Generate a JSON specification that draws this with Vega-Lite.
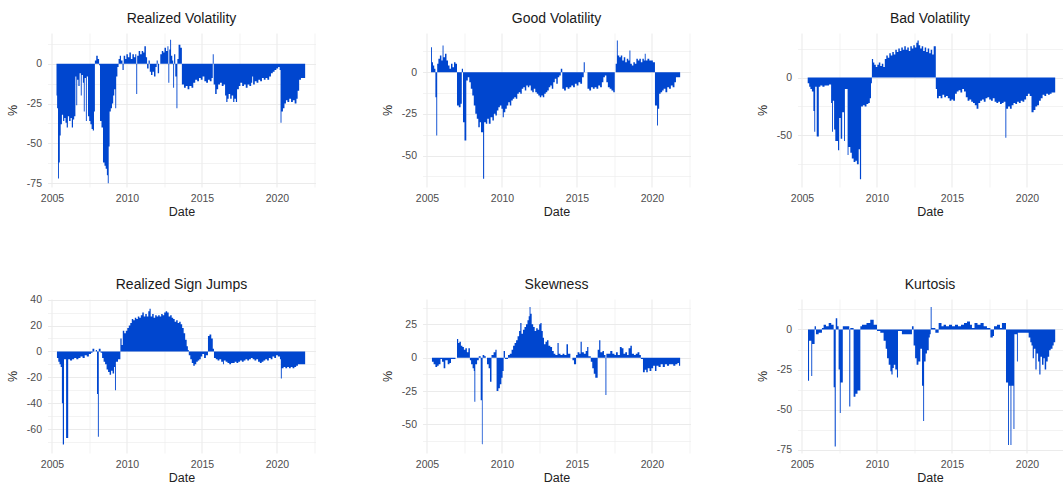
{
  "$schema": "https://vega.github.io/schema/vega-lite/v6.json",
  "background": "white",
  "padding": {"left": 6.5, "top": 11, "right": 0, "bottom": 0},
  "config": {
    "font": "Liberation Sans",
    "view": {"stroke": null},
    "title": {"fontSize": 14, "fontWeight": "normal", "color": "#1a1a1a", "anchor": "middle", "offset": 7.5, "font": "Liberation Sans"},
    "axis": {"domain": false, "ticks": false, "gridColor": "#ebebeb", "labelColor": "#4d4d4d", "labelFontSize": 10.5, "titleFontSize": 12.5, "titleFontWeight": "normal", "titleColor": "#222222", "labelFont": "Liberation Sans", "titleFont": "Liberation Sans"},
    "axisX": {"labelPadding": 6, "minExtent": 17, "maxExtent": 17, "titlePadding": 1, "labelFlush": false},
    "axisY": {"labelPadding": 6, "minExtent": 24, "maxExtent": 24, "titlePadding": 4},
    "area": {"color": "#0046cf", "interpolate": "step-after"}
  },
  "columns": 3,
  "align": "each",
  "spacing": {"row": 59, "column": 66},
  "datasets": {
    "rv": [{"t":2005.30,"v":-20},{"t":2005.34,"v":-28},{"t":2005.40,"v":-72},{"t":2005.46,"v":-62},{"t":2005.52,"v":-45},{"t":2005.58,"v":-38},{"t":2005.66,"v":-32},{"t":2005.74,"v":-36},{"t":2005.82,"v":-34},{"t":2005.90,"v":-37},{"t":2005.98,"v":-40},{"t":2006.06,"v":-33},{"t":2006.14,"v":-36},{"t":2006.24,"v":-34},{"t":2006.32,"v":-40},{"t":2006.40,"v":-35},{"t":2006.48,"v":-33},{"t":2006.56,"v":-8},{"t":2006.62,"v":-26},{"t":2006.68,"v":-10},{"t":2006.76,"v":-14},{"t":2006.84,"v":-6},{"t":2006.92,"v":-20},{"t":2006.98,"v":-7},{"t":2007.06,"v":-12},{"t":2007.12,"v":-30},{"t":2007.18,"v":-9},{"t":2007.26,"v":-36},{"t":2007.32,"v":-8},{"t":2007.40,"v":-33},{"t":2007.48,"v":-36},{"t":2007.56,"v":-38},{"t":2007.64,"v":-41},{"t":2007.72,"v":-42},{"t":2007.80,"v":-30},{"t":2007.86,"v":2},{"t":2007.95,"v":5},{"t":2008.05,"v":3},{"t":2008.14,"v":-1},{"t":2008.20,"v":-36},{"t":2008.30,"v":-40},{"t":2008.40,"v":-62},{"t":2008.50,"v":-64},{"t":2008.58,"v":-66},{"t":2008.66,"v":-70},{"t":2008.72,"v":-75},{"t":2008.78,"v":-52},{"t":2008.84,"v":-30},{"t":2008.92,"v":-28},{"t":2009.00,"v":-25},{"t":2009.08,"v":-20},{"t":2009.15,"v":-16},{"t":2009.22,"v":-28},{"t":2009.28,"v":-8},{"t":2009.36,"v":-2},{"t":2009.44,"v":3},{"t":2009.52,"v":5},{"t":2009.60,"v":2},{"t":2009.70,"v":-4},{"t":2009.78,"v":5},{"t":2009.88,"v":3},{"t":2009.96,"v":6},{"t":2010.06,"v":4},{"t":2010.16,"v":7},{"t":2010.26,"v":3},{"t":2010.36,"v":6},{"t":2010.46,"v":4},{"t":2010.55,"v":6},{"t":2010.62,"v":-19},{"t":2010.68,"v":5},{"t":2010.78,"v":8},{"t":2010.88,"v":6},{"t":2010.98,"v":8},{"t":2011.08,"v":7},{"t":2011.16,"v":11},{"t":2011.26,"v":4},{"t":2011.34,"v":-3},{"t":2011.44,"v":2},{"t":2011.52,"v":-5},{"t":2011.60,"v":-7},{"t":2011.70,"v":-5},{"t":2011.80,"v":-8},{"t":2011.90,"v":-2},{"t":2011.98,"v":2},{"t":2012.05,"v":-6},{"t":2012.14,"v":0},{"t":2012.22,"v":6},{"t":2012.32,"v":8},{"t":2012.42,"v":7},{"t":2012.50,"v":10},{"t":2012.60,"v":8},{"t":2012.70,"v":11},{"t":2012.76,"v":-12},{"t":2012.82,"v":9},{"t":2012.88,"v":15},{"t":2012.94,"v":5},{"t":2013.02,"v":2},{"t":2013.08,"v":-15},{"t":2013.14,"v":6},{"t":2013.22,"v":-8},{"t":2013.30,"v":-28},{"t":2013.36,"v":3},{"t":2013.44,"v":12},{"t":2013.56,"v":10},{"t":2013.66,"v":-13},{"t":2013.80,"v":-15},{"t":2013.92,"v":-14},{"t":2014.04,"v":-16},{"t":2014.16,"v":-14},{"t":2014.30,"v":-15},{"t":2014.42,"v":-12},{"t":2014.55,"v":-10},{"t":2014.68,"v":-11},{"t":2014.80,"v":-9},{"t":2014.92,"v":-10},{"t":2015.04,"v":-8},{"t":2015.16,"v":-11},{"t":2015.28,"v":-12},{"t":2015.40,"v":-10},{"t":2015.52,"v":-11},{"t":2015.64,"v":-9},{"t":2015.72,"v":6},{"t":2015.78,"v":-13},{"t":2015.88,"v":-19},{"t":2015.98,"v":-16},{"t":2016.08,"v":-13},{"t":2016.20,"v":-12},{"t":2016.32,"v":-14},{"t":2016.44,"v":-13},{"t":2016.54,"v":-20},{"t":2016.62,"v":-24},{"t":2016.70,"v":-22},{"t":2016.78,"v":-19},{"t":2016.88,"v":-22},{"t":2016.98,"v":-20},{"t":2017.08,"v":-24},{"t":2017.16,"v":-22},{"t":2017.26,"v":-24},{"t":2017.34,"v":-16},{"t":2017.46,"v":-14},{"t":2017.56,"v":-12},{"t":2017.68,"v":-14},{"t":2017.80,"v":-13},{"t":2017.92,"v":-15},{"t":2018.04,"v":-13},{"t":2018.16,"v":-14},{"t":2018.28,"v":-12},{"t":2018.35,"v":-8},{"t":2018.41,"v":-13},{"t":2018.52,"v":-11},{"t":2018.64,"v":-12},{"t":2018.76,"v":-10},{"t":2018.88,"v":-11},{"t":2019.00,"v":-9},{"t":2019.12,"v":-10},{"t":2019.24,"v":-9},{"t":2019.36,"v":-10},{"t":2019.48,"v":-8},{"t":2019.60,"v":-6},{"t":2019.72,"v":-5},{"t":2019.84,"v":-4},{"t":2019.96,"v":-3},{"t":2020.08,"v":-2},{"t":2020.18,"v":-4},{"t":2020.24,"v":-37},{"t":2020.30,"v":-30},{"t":2020.40,"v":-28},{"t":2020.50,"v":-25},{"t":2020.60,"v":-23},{"t":2020.70,"v":-24},{"t":2020.82,"v":-22},{"t":2020.94,"v":-24},{"t":2021.06,"v":-23},{"t":2021.18,"v":-25},{"t":2021.30,"v":-22},{"t":2021.38,"v":-17},{"t":2021.48,"v":-10},{"t":2021.60,"v":-9},{"t":2021.88,"v":-9}],
    "gv": [{"t":2005.27,"v":15},{"t":2005.33,"v":6},{"t":2005.40,"v":4},{"t":2005.48,"v":2},{"t":2005.56,"v":-15},{"t":2005.62,"v":-38},{"t":2005.68,"v":5},{"t":2005.76,"v":8},{"t":2005.86,"v":10},{"t":2005.96,"v":7},{"t":2006.04,"v":16},{"t":2006.10,"v":9},{"t":2006.20,"v":11},{"t":2006.30,"v":7},{"t":2006.40,"v":4},{"t":2006.50,"v":2},{"t":2006.60,"v":5},{"t":2006.70,"v":3},{"t":2006.80,"v":6},{"t":2006.90,"v":5},{"t":2007.00,"v":-20},{"t":2007.12,"v":-21},{"t":2007.24,"v":-19},{"t":2007.32,"v":2},{"t":2007.40,"v":-30},{"t":2007.50,"v":-41},{"t":2007.62,"v":-5},{"t":2007.72,"v":-3},{"t":2007.82,"v":-6},{"t":2007.92,"v":-10},{"t":2008.02,"v":-14},{"t":2008.12,"v":-20},{"t":2008.22,"v":-25},{"t":2008.32,"v":-28},{"t":2008.42,"v":-33},{"t":2008.52,"v":-30},{"t":2008.60,"v":-36},{"t":2008.74,"v":-64},{"t":2008.81,"v":-30},{"t":2008.92,"v":-31},{"t":2009.02,"v":-28},{"t":2009.12,"v":-31},{"t":2009.24,"v":-27},{"t":2009.36,"v":-29},{"t":2009.46,"v":-25},{"t":2009.56,"v":-26},{"t":2009.66,"v":-23},{"t":2009.76,"v":-21},{"t":2009.86,"v":-20},{"t":2009.96,"v":-22},{"t":2010.05,"v":-27},{"t":2010.12,"v":-24},{"t":2010.22,"v":-22},{"t":2010.32,"v":-20},{"t":2010.42,"v":-18},{"t":2010.52,"v":-20},{"t":2010.62,"v":-17},{"t":2010.72,"v":-16},{"t":2010.82,"v":-15},{"t":2010.92,"v":-16},{"t":2011.02,"v":-13},{"t":2011.12,"v":-12},{"t":2011.22,"v":-13},{"t":2011.32,"v":-10},{"t":2011.42,"v":-9},{"t":2011.52,"v":-11},{"t":2011.62,"v":-8},{"t":2011.72,"v":-9},{"t":2011.82,"v":-8},{"t":2011.92,"v":-11},{"t":2012.02,"v":-12},{"t":2012.12,"v":-10},{"t":2012.22,"v":-12},{"t":2012.32,"v":-13},{"t":2012.42,"v":-14},{"t":2012.52,"v":-15},{"t":2012.62,"v":-14},{"t":2012.72,"v":-15},{"t":2012.82,"v":-13},{"t":2012.92,"v":-12},{"t":2013.02,"v":-11},{"t":2013.12,"v":-9},{"t":2013.22,"v":-8},{"t":2013.32,"v":-10},{"t":2013.42,"v":-6},{"t":2013.52,"v":-4},{"t":2013.62,"v":-7},{"t":2013.72,"v":-3},{"t":2013.82,"v":-2},{"t":2013.92,"v":2},{"t":2014.02,"v":-10},{"t":2014.14,"v":-11},{"t":2014.26,"v":-9},{"t":2014.38,"v":-10},{"t":2014.50,"v":-9},{"t":2014.62,"v":-8},{"t":2014.74,"v":-9},{"t":2014.86,"v":-7},{"t":2014.98,"v":-8},{"t":2015.10,"v":-6},{"t":2015.22,"v":-7},{"t":2015.34,"v":-3},{"t":2015.45,"v":6},{"t":2015.52,"v":0},{"t":2015.70,"v":-10},{"t":2015.82,"v":-11},{"t":2015.94,"v":-9},{"t":2016.06,"v":-10},{"t":2016.18,"v":-9},{"t":2016.30,"v":-10},{"t":2016.42,"v":-8},{"t":2016.54,"v":-9},{"t":2016.66,"v":-6},{"t":2016.76,"v":-3},{"t":2016.86,"v":-2},{"t":2016.96,"v":-6},{"t":2017.06,"v":-9},{"t":2017.18,"v":-10},{"t":2017.30,"v":-11},{"t":2017.42,"v":-12},{"t":2017.52,"v":0},{"t":2017.58,"v":5},{"t":2017.66,"v":19},{"t":2017.72,"v":10},{"t":2017.82,"v":9},{"t":2017.92,"v":10},{"t":2018.02,"v":7},{"t":2018.12,"v":9},{"t":2018.22,"v":6},{"t":2018.32,"v":8},{"t":2018.42,"v":7},{"t":2018.50,"v":13},{"t":2018.56,"v":5},{"t":2018.66,"v":4},{"t":2018.76,"v":6},{"t":2018.86,"v":5},{"t":2018.96,"v":8},{"t":2019.06,"v":7},{"t":2019.16,"v":8},{"t":2019.26,"v":6},{"t":2019.36,"v":8},{"t":2019.46,"v":7},{"t":2019.52,"v":11},{"t":2019.58,"v":7},{"t":2019.70,"v":8},{"t":2019.82,"v":7},{"t":2019.94,"v":7},{"t":2020.06,"v":6},{"t":2020.20,"v":-20},{"t":2020.34,"v":-32},{"t":2020.40,"v":-22},{"t":2020.48,"v":-13},{"t":2020.58,"v":-12},{"t":2020.68,"v":-11},{"t":2020.78,"v":-10},{"t":2020.90,"v":-12},{"t":2021.02,"v":-9},{"t":2021.14,"v":-10},{"t":2021.26,"v":-8},{"t":2021.38,"v":-9},{"t":2021.50,"v":-6},{"t":2021.60,"v":-3},{"t":2021.88,"v":-3}],
    "bv": [{"t":2005.38,"v":-5},{"t":2005.48,"v":-8},{"t":2005.56,"v":-10},{"t":2005.66,"v":-12},{"t":2005.76,"v":-29},{"t":2005.82,"v":-47},{"t":2005.88,"v":-8},{"t":2005.98,"v":-51},{"t":2006.12,"v":-8},{"t":2006.22,"v":-7},{"t":2006.36,"v":-8},{"t":2006.50,"v":-7},{"t":2006.66,"v":-7},{"t":2006.80,"v":-6},{"t":2006.94,"v":-22},{"t":2007.00,"v":-47},{"t":2007.06,"v":-20},{"t":2007.14,"v":-45},{"t":2007.22,"v":-55},{"t":2007.40,"v":-63},{"t":2007.48,"v":-35},{"t":2007.58,"v":-53},{"t":2007.68,"v":-30},{"t":2007.80,"v":-55},{"t":2007.86,"v":-10},{"t":2008.04,"v":-67},{"t":2008.10,"v":-60},{"t":2008.22,"v":-65},{"t":2008.32,"v":-70},{"t":2008.44,"v":-73},{"t":2008.56,"v":-72},{"t":2008.66,"v":-75},{"t":2008.78,"v":-62},{"t":2008.86,"v":-88},{"t":2008.94,"v":-25},{"t":2009.06,"v":-24},{"t":2009.18,"v":-25},{"t":2009.30,"v":-23},{"t":2009.42,"v":-22},{"t":2009.52,"v":-18},{"t":2009.60,"v":-5},{"t":2009.66,"v":16},{"t":2009.74,"v":13},{"t":2009.82,"v":11},{"t":2009.92,"v":9},{"t":2010.02,"v":11},{"t":2010.12,"v":13},{"t":2010.22,"v":10},{"t":2010.32,"v":12},{"t":2010.42,"v":9},{"t":2010.52,"v":16},{"t":2010.62,"v":19},{"t":2010.72,"v":17},{"t":2010.82,"v":21},{"t":2010.92,"v":19},{"t":2011.02,"v":22},{"t":2011.12,"v":20},{"t":2011.22,"v":24},{"t":2011.32,"v":22},{"t":2011.42,"v":25},{"t":2011.52,"v":23},{"t":2011.62,"v":26},{"t":2011.72,"v":24},{"t":2011.82,"v":27},{"t":2011.92,"v":24},{"t":2012.02,"v":26},{"t":2012.12,"v":23},{"t":2012.22,"v":27},{"t":2012.32,"v":25},{"t":2012.42,"v":28},{"t":2012.52,"v":26},{"t":2012.62,"v":30},{"t":2012.70,"v":32},{"t":2012.78,"v":28},{"t":2012.88,"v":25},{"t":2012.98,"v":27},{"t":2013.08,"v":23},{"t":2013.18,"v":26},{"t":2013.28,"v":22},{"t":2013.38,"v":25},{"t":2013.48,"v":21},{"t":2013.58,"v":24},{"t":2013.68,"v":20},{"t":2013.78,"v":27},{"t":2013.92,"v":-10},{"t":2014.00,"v":-18},{"t":2014.12,"v":-16},{"t":2014.24,"v":-18},{"t":2014.36,"v":-15},{"t":2014.48,"v":-17},{"t":2014.60,"v":-16},{"t":2014.72,"v":-18},{"t":2014.84,"v":-20},{"t":2014.96,"v":-19},{"t":2015.08,"v":-20},{"t":2015.20,"v":-14},{"t":2015.32,"v":-12},{"t":2015.44,"v":-11},{"t":2015.56,"v":-13},{"t":2015.68,"v":-10},{"t":2015.80,"v":-12},{"t":2015.92,"v":-17},{"t":2016.04,"v":-20},{"t":2016.16,"v":-19},{"t":2016.28,"v":-21},{"t":2016.40,"v":-22},{"t":2016.52,"v":-24},{"t":2016.64,"v":-27},{"t":2016.76,"v":-22},{"t":2016.88,"v":-20},{"t":2017.00,"v":-19},{"t":2017.12,"v":-21},{"t":2017.24,"v":-18},{"t":2017.36,"v":-17},{"t":2017.48,"v":-19},{"t":2017.60,"v":-20},{"t":2017.72,"v":-18},{"t":2017.84,"v":-21},{"t":2017.96,"v":-22},{"t":2018.08,"v":-21},{"t":2018.20,"v":-23},{"t":2018.32,"v":-22},{"t":2018.44,"v":-21},{"t":2018.56,"v":-52},{"t":2018.62,"v":-27},{"t":2018.74,"v":-25},{"t":2018.86,"v":-27},{"t":2018.98,"v":-24},{"t":2019.10,"v":-22},{"t":2019.22,"v":-23},{"t":2019.34,"v":-21},{"t":2019.46,"v":-22},{"t":2019.58,"v":-20},{"t":2019.70,"v":-21},{"t":2019.82,"v":-19},{"t":2019.94,"v":-16},{"t":2020.06,"v":-14},{"t":2020.18,"v":-16},{"t":2020.30,"v":-30},{"t":2020.44,"v":-28},{"t":2020.56,"v":-25},{"t":2020.68,"v":-24},{"t":2020.80,"v":-20},{"t":2020.92,"v":-18},{"t":2021.04,"v":-15},{"t":2021.16,"v":-16},{"t":2021.28,"v":-14},{"t":2021.40,"v":-15},{"t":2021.52,"v":-14},{"t":2021.64,"v":-13},{"t":2021.88,"v":-13}],
    "sj": [{"t":2005.33,"v":-5},{"t":2005.42,"v":-8},{"t":2005.50,"v":-10},{"t":2005.58,"v":-12},{"t":2005.66,"v":-40},{"t":2005.72,"v":-72},{"t":2005.80,"v":-6},{"t":2005.94,"v":-67},{"t":2006.08,"v":-6},{"t":2006.20,"v":-7},{"t":2006.34,"v":-6},{"t":2006.48,"v":-5},{"t":2006.62,"v":-6},{"t":2006.76,"v":-5},{"t":2006.90,"v":-4},{"t":2007.04,"v":-5},{"t":2007.18,"v":-3},{"t":2007.32,"v":-4},{"t":2007.46,"v":-2},{"t":2007.60,"v":-1},{"t":2007.70,"v":2},{"t":2007.82,"v":0},{"t":2007.92,"v":1},{"t":2008.00,"v":-33},{"t":2008.06,"v":-66},{"t":2008.12,"v":2},{"t":2008.24,"v":-1},{"t":2008.34,"v":-5},{"t":2008.44,"v":-8},{"t":2008.54,"v":-10},{"t":2008.64,"v":-14},{"t":2008.74,"v":-16},{"t":2008.84,"v":-18},{"t":2008.94,"v":-15},{"t":2009.04,"v":-17},{"t":2009.14,"v":-12},{"t":2009.20,"v":-30},{"t":2009.26,"v":-8},{"t":2009.40,"v":-6},{"t":2009.56,"v":10},{"t":2009.64,"v":5},{"t":2009.72,"v":16},{"t":2009.82,"v":14},{"t":2009.92,"v":16},{"t":2010.02,"v":18},{"t":2010.12,"v":20},{"t":2010.22,"v":22},{"t":2010.32,"v":25},{"t":2010.42,"v":24},{"t":2010.52,"v":26},{"t":2010.62,"v":25},{"t":2010.72,"v":27},{"t":2010.82,"v":26},{"t":2010.92,"v":28},{"t":2011.02,"v":30},{"t":2011.12,"v":27},{"t":2011.22,"v":29},{"t":2011.32,"v":27},{"t":2011.42,"v":31},{"t":2011.50,"v":33},{"t":2011.58,"v":27},{"t":2011.68,"v":29},{"t":2011.78,"v":26},{"t":2011.88,"v":28},{"t":2011.98,"v":27},{"t":2012.08,"v":28},{"t":2012.18,"v":27},{"t":2012.28,"v":29},{"t":2012.38,"v":28},{"t":2012.48,"v":30},{"t":2012.58,"v":31},{"t":2012.68,"v":30},{"t":2012.78,"v":27},{"t":2012.88,"v":28},{"t":2012.98,"v":26},{"t":2013.08,"v":25},{"t":2013.18,"v":23},{"t":2013.28,"v":24},{"t":2013.38,"v":22},{"t":2013.48,"v":23},{"t":2013.58,"v":21},{"t":2013.68,"v":18},{"t":2013.78,"v":14},{"t":2013.88,"v":9},{"t":2013.98,"v":4},{"t":2014.06,"v":1},{"t":2014.12,"v":-3},{"t":2014.22,"v":-6},{"t":2014.32,"v":-9},{"t":2014.42,"v":-11},{"t":2014.52,"v":-10},{"t":2014.62,"v":-8},{"t":2014.72,"v":-7},{"t":2014.82,"v":-6},{"t":2014.92,"v":-4},{"t":2015.02,"v":-2},{"t":2015.14,"v":-5},{"t":2015.26,"v":-3},{"t":2015.40,"v":12},{"t":2015.50,"v":13},{"t":2015.62,"v":10},{"t":2015.72,"v":2},{"t":2015.80,"v":-5},{"t":2015.92,"v":-6},{"t":2016.04,"v":-7},{"t":2016.16,"v":-6},{"t":2016.28,"v":-8},{"t":2016.40,"v":-10},{"t":2016.46,"v":-7},{"t":2016.58,"v":-8},{"t":2016.70,"v":-9},{"t":2016.82,"v":-10},{"t":2016.94,"v":-9},{"t":2017.06,"v":-9},{"t":2017.18,"v":-8},{"t":2017.30,"v":-9},{"t":2017.42,"v":-8},{"t":2017.54,"v":-7},{"t":2017.66,"v":-8},{"t":2017.78,"v":-7},{"t":2017.90,"v":-6},{"t":2018.02,"v":-7},{"t":2018.14,"v":-6},{"t":2018.26,"v":-5},{"t":2018.38,"v":-6},{"t":2018.50,"v":-7},{"t":2018.62,"v":-6},{"t":2018.74,"v":-8},{"t":2018.86,"v":-9},{"t":2018.98,"v":-8},{"t":2019.10,"v":-7},{"t":2019.22,"v":-6},{"t":2019.34,"v":-7},{"t":2019.46,"v":-5},{"t":2019.58,"v":-6},{"t":2019.70,"v":-4},{"t":2019.82,"v":-5},{"t":2019.94,"v":-3},{"t":2020.06,"v":-4},{"t":2020.20,"v":-6},{"t":2020.26,"v":-21},{"t":2020.32,"v":-13},{"t":2020.44,"v":-12},{"t":2020.56,"v":-13},{"t":2020.68,"v":-12},{"t":2020.80,"v":-13},{"t":2020.92,"v":-12},{"t":2021.04,"v":-13},{"t":2021.16,"v":-12},{"t":2021.28,"v":-11},{"t":2021.40,"v":-10},{"t":2021.88,"v":-10}],
    "sk": [{"t":2005.33,"v":-3},{"t":2005.44,"v":-5},{"t":2005.56,"v":-7},{"t":2005.68,"v":-6},{"t":2005.78,"v":-5},{"t":2005.90,"v":-1},{"t":2006.00,"v":-3},{"t":2006.11,"v":-8},{"t":2006.22,"v":-2},{"t":2006.38,"v":-5},{"t":2006.50,"v":-4},{"t":2006.60,"v":-1},{"t":2006.90,"v":0},{"t":2007.00,"v":14},{"t":2007.08,"v":11},{"t":2007.16,"v":12},{"t":2007.26,"v":9},{"t":2007.36,"v":8},{"t":2007.46,"v":6},{"t":2007.56,"v":7},{"t":2007.66,"v":4},{"t":2007.76,"v":7},{"t":2007.86,"v":-2},{"t":2007.94,"v":-5},{"t":2008.04,"v":-8},{"t":2008.12,"v":-10},{"t":2008.16,"v":-33},{"t":2008.22,"v":-5},{"t":2008.34,"v":-2},{"t":2008.45,"v":1},{"t":2008.58,"v":-32},{"t":2008.66,"v":-65},{"t":2008.71,"v":2},{"t":2008.82,"v":1},{"t":2008.92,"v":0},{"t":2009.00,"v":-5},{"t":2009.11,"v":-8},{"t":2009.20,"v":-18},{"t":2009.30,"v":2},{"t":2009.44,"v":4},{"t":2009.56,"v":6},{"t":2009.64,"v":-25},{"t":2009.76,"v":-23},{"t":2009.86,"v":-20},{"t":2009.96,"v":-15},{"t":2010.04,"v":-10},{"t":2010.11,"v":5},{"t":2010.20,"v":-1},{"t":2010.40,"v":2},{"t":2010.52,"v":3},{"t":2010.64,"v":6},{"t":2010.74,"v":9},{"t":2010.84,"v":11},{"t":2010.94,"v":13},{"t":2011.04,"v":16},{"t":2011.14,"v":20},{"t":2011.22,"v":26},{"t":2011.30,"v":18},{"t":2011.40,"v":21},{"t":2011.50,"v":23},{"t":2011.60,"v":25},{"t":2011.70,"v":28},{"t":2011.78,"v":31},{"t":2011.84,"v":38},{"t":2011.90,"v":33},{"t":2011.98,"v":25},{"t":2012.08,"v":23},{"t":2012.18,"v":20},{"t":2012.28,"v":22},{"t":2012.38,"v":21},{"t":2012.48,"v":25},{"t":2012.56,"v":26},{"t":2012.64,"v":20},{"t":2012.72,"v":15},{"t":2012.80,"v":10},{"t":2012.90,"v":12},{"t":2013.00,"v":13},{"t":2013.10,"v":9},{"t":2013.22,"v":8},{"t":2013.34,"v":5},{"t":2013.45,"v":3},{"t":2013.56,"v":2},{"t":2013.70,"v":11},{"t":2013.78,"v":3},{"t":2013.90,"v":2},{"t":2014.04,"v":3},{"t":2014.16,"v":2},{"t":2014.30,"v":10},{"t":2014.40,"v":3},{"t":2014.56,"v":0},{"t":2014.70,"v":-2},{"t":2014.80,"v":-5},{"t":2014.94,"v":2},{"t":2015.04,"v":4},{"t":2015.16,"v":3},{"t":2015.24,"v":12},{"t":2015.32,"v":4},{"t":2015.46,"v":3},{"t":2015.58,"v":5},{"t":2015.68,"v":8},{"t":2015.76,"v":1},{"t":2015.92,"v":-3},{"t":2016.02,"v":-8},{"t":2016.12,"v":-12},{"t":2016.22,"v":-15},{"t":2016.38,"v":6},{"t":2016.48,"v":13},{"t":2016.56,"v":4},{"t":2016.70,"v":5},{"t":2016.80,"v":2},{"t":2016.90,"v":-28},{"t":2016.96,"v":3},{"t":2017.10,"v":3},{"t":2017.22,"v":5},{"t":2017.36,"v":3},{"t":2017.50,"v":2},{"t":2017.60,"v":4},{"t":2017.72,"v":2},{"t":2017.86,"v":8},{"t":2017.98,"v":7},{"t":2018.10,"v":3},{"t":2018.22,"v":4},{"t":2018.34,"v":2},{"t":2018.44,"v":7},{"t":2018.56,"v":9},{"t":2018.66,"v":3},{"t":2018.80,"v":2},{"t":2018.92,"v":3},{"t":2019.04,"v":4},{"t":2019.16,"v":2},{"t":2019.26,"v":-1},{"t":2019.40,"v":-11},{"t":2019.52,"v":-9},{"t":2019.62,"v":-11},{"t":2019.72,"v":-8},{"t":2019.84,"v":-10},{"t":2019.96,"v":-8},{"t":2020.08,"v":-6},{"t":2020.20,"v":-10},{"t":2020.30,"v":-6},{"t":2020.44,"v":-7},{"t":2020.58,"v":-5},{"t":2020.72,"v":-7},{"t":2020.86,"v":-5},{"t":2021.00,"v":-6},{"t":2021.14,"v":-5},{"t":2021.28,"v":-5},{"t":2021.42,"v":-6},{"t":2021.56,"v":-5},{"t":2021.70,"v":-4},{"t":2021.80,"v":-6},{"t":2021.88,"v":-6}],
    "ku": [{"t":2005.40,"v":-32},{"t":2005.47,"v":-7},{"t":2005.62,"v":-29},{"t":2005.68,"v":-9},{"t":2005.84,"v":2},{"t":2005.93,"v":-3},{"t":2006.11,"v":-2},{"t":2006.33,"v":1},{"t":2006.44,"v":3},{"t":2006.60,"v":2},{"t":2006.78,"v":4},{"t":2006.95,"v":3},{"t":2007.11,"v":-36},{"t":2007.18,"v":-73},{"t":2007.25,"v":7},{"t":2007.35,"v":2},{"t":2007.44,"v":-25},{"t":2007.52,"v":-52},{"t":2007.58,"v":-33},{"t":2007.72,"v":2},{"t":2008.15,"v":-48},{"t":2008.22,"v":1},{"t":2008.44,"v":-42},{"t":2008.56,"v":-40},{"t":2008.70,"v":-38},{"t":2008.89,"v":2},{"t":2009.00,"v":3},{"t":2009.30,"v":4},{"t":2009.55,"v":6},{"t":2009.78,"v":3},{"t":2010.00,"v":-1},{"t":2010.22,"v":-2},{"t":2010.44,"v":-7},{"t":2010.58,"v":-12},{"t":2010.67,"v":-18},{"t":2010.78,"v":-22},{"t":2010.89,"v":-26},{"t":2010.96,"v":-28},{"t":2011.04,"v":-24},{"t":2011.12,"v":-22},{"t":2011.22,"v":-25},{"t":2011.33,"v":-30},{"t":2011.40,"v":-1},{"t":2011.66,"v":-3},{"t":2012.33,"v":2},{"t":2012.44,"v":-10},{"t":2012.54,"v":-18},{"t":2012.64,"v":-22},{"t":2012.76,"v":-20},{"t":2012.89,"v":-12},{"t":2013.00,"v":-35},{"t":2013.08,"v":-57},{"t":2013.14,"v":-20},{"t":2013.24,"v":-15},{"t":2013.33,"v":-13},{"t":2013.45,"v":-5},{"t":2013.52,"v":-3},{"t":2013.58,"v":14},{"t":2013.64,"v":1},{"t":2013.89,"v":-2},{"t":2014.11,"v":4},{"t":2014.30,"v":2},{"t":2014.44,"v":3},{"t":2014.60,"v":2},{"t":2014.80,"v":3},{"t":2015.00,"v":2},{"t":2015.20,"v":3},{"t":2015.40,"v":2},{"t":2015.60,"v":3},{"t":2015.80,"v":4},{"t":2016.00,"v":5},{"t":2016.20,"v":3},{"t":2016.33,"v":1},{"t":2016.50,"v":4},{"t":2016.70,"v":3},{"t":2016.90,"v":4},{"t":2017.11,"v":2},{"t":2017.33,"v":1},{"t":2017.56,"v":-5},{"t":2017.72,"v":-4},{"t":2017.80,"v":2},{"t":2018.00,"v":3},{"t":2018.20,"v":1},{"t":2018.33,"v":4},{"t":2018.60,"v":-33},{"t":2018.74,"v":-72},{"t":2018.80,"v":-35},{"t":2018.90,"v":-72},{"t":2018.96,"v":-35},{"t":2019.10,"v":-62},{"t":2019.16,"v":-3},{"t":2019.33,"v":-20},{"t":2019.39,"v":-2},{"t":2020.11,"v":-5},{"t":2020.22,"v":-8},{"t":2020.30,"v":-10},{"t":2020.38,"v":-18},{"t":2020.46,"v":-12},{"t":2020.56,"v":-25},{"t":2020.64,"v":-15},{"t":2020.74,"v":-20},{"t":2020.82,"v":-28},{"t":2020.90,"v":-17},{"t":2021.00,"v":-22},{"t":2021.10,"v":-18},{"t":2021.18,"v":-25},{"t":2021.28,"v":-20},{"t":2021.38,"v":-17},{"t":2021.48,"v":-13},{"t":2021.58,"v":-12},{"t":2021.70,"v":-10},{"t":2021.78,"v":-8},{"t":2021.88,"v":-8}]
  },
  "concat": [
    {
      "title": "Realized Volatility", "width": 268, "height": 154, "data": {"name": "rv"}, "mark": "area",
      "encoding": {
        "x": {"field": "t", "type": "quantitative", "title": "Date", "scale": {"domain": [2004.7, 2022.57], "nice": false, "zero": false},
              "axis": {"values": [2005, 2007.5, 2010, 2012.5, 2015, 2017.5, 2020, 2022.5], "labelExpr": "datum.value % 5 == 0 ? '' + datum.value : ''", "gridWidth": {"condition": {"test": "datum.value % 5 == 0", "value": 1.1}, "value": 0.6}}},
        "y": {"field": "v", "type": "quantitative", "title": "%", "scale": {"domain": [-77.4, 19.3], "nice": false, "zero": false},
              "axis": {"values": [-75, -62.5, -50, -37.5, -25, -12.5, 0, 12.5], "labelExpr": "datum.value % 25 == 0 ? '' + datum.value : ''", "gridWidth": {"condition": {"test": "datum.value % 25 == 0", "value": 1.1}, "value": 0.6}}},
        "y2": {"datum": 0}
      }
    },
    {
      "title": "Good Volatility", "width": 268, "height": 154, "data": {"name": "gv"}, "mark": "area",
      "encoding": {
        "x": {"field": "t", "type": "quantitative", "title": "Date", "scale": {"domain": [2004.7, 2022.57], "nice": false, "zero": false},
              "axis": {"values": [2005, 2007.5, 2010, 2012.5, 2015, 2017.5, 2020, 2022.5], "labelExpr": "datum.value % 5 == 0 ? '' + datum.value : ''", "gridWidth": {"condition": {"test": "datum.value % 5 == 0", "value": 1.1}, "value": 0.6}}},
        "y": {"field": "v", "type": "quantitative", "title": "%", "scale": {"domain": [-68.9, 23.5], "nice": false, "zero": false},
              "axis": {"values": [-62.5, -50, -37.5, -25, -12.5, 0, 12.5], "labelExpr": "datum.value % 25 == 0 ? '' + datum.value : ''", "gridWidth": {"condition": {"test": "datum.value % 25 == 0", "value": 1.1}, "value": 0.6}}},
        "y2": {"datum": 0}
      }
    },
    {
      "title": "Bad Volatility", "width": 265, "height": 154, "data": {"name": "bv"}, "mark": "area",
      "encoding": {
        "x": {"field": "t", "type": "quantitative", "title": "Date", "scale": {"domain": [2004.7, 2022.367], "nice": false, "zero": false},
              "axis": {"values": [2005, 2007.5, 2010, 2012.5, 2015, 2017.5, 2020], "labelExpr": "datum.value % 5 == 0 ? '' + datum.value : ''", "gridWidth": {"condition": {"test": "datum.value % 5 == 0", "value": 1.1}, "value": 0.6}}},
        "y": {"field": "v", "type": "quantitative", "title": "%", "scale": {"domain": [-94.7, 38.5], "nice": false, "zero": false},
              "axis": {"values": [-75, -50, -25, 0, 25], "labelExpr": "datum.value % 50 == 0 ? '' + datum.value : ''", "gridWidth": {"condition": {"test": "datum.value % 50 == 0", "value": 1.1}, "value": 0.6}}},
        "y2": {"datum": 0}
      }
    },
    {
      "title": {"text": "Realized Sign Jumps", "offset": 2.5}, "width": 268, "height": 154, "data": {"name": "sj"}, "mark": "area",
      "encoding": {
        "x": {"field": "t", "type": "quantitative", "title": "Date", "scale": {"domain": [2004.7, 2022.57], "nice": false, "zero": false},
              "axis": {"values": [2005, 2007.5, 2010, 2012.5, 2015, 2017.5, 2020, 2022.5], "labelExpr": "datum.value % 5 == 0 ? '' + datum.value : ''", "gridWidth": {"condition": {"test": "datum.value % 5 == 0", "value": 1.1}, "value": 0.6}}},
        "y": {"field": "v", "type": "quantitative", "title": "%", "scale": {"domain": [-78.5, 40.5], "nice": false, "zero": false},
              "axis": {"values": [-70, -60, -50, -40, -30, -20, -10, 0, 10, 20, 30, 40], "labelExpr": "datum.value % 20 == 0 ? '' + datum.value : ''", "gridWidth": {"condition": {"test": "datum.value % 20 == 0", "value": 1.1}, "value": 0.6}}},
        "y2": {"datum": 0}
      }
    },
    {
      "title": "Skewness", "width": 268, "height": 154, "data": {"name": "sk"}, "mark": "area",
      "encoding": {
        "x": {"field": "t", "type": "quantitative", "title": "Date", "scale": {"domain": [2004.7, 2022.57], "nice": false, "zero": false},
              "axis": {"values": [2005, 2007.5, 2010, 2012.5, 2015, 2017.5, 2020, 2022.5], "labelExpr": "datum.value % 5 == 0 ? '' + datum.value : ''", "gridWidth": {"condition": {"test": "datum.value % 5 == 0", "value": 1.1}, "value": 0.6}}},
        "y": {"field": "v", "type": "quantitative", "title": "%", "scale": {"domain": [-71.5, 44], "nice": false, "zero": false},
              "axis": {"values": [-62.5, -50, -37.5, -25, -12.5, 0, 12.5, 25, 37.5], "labelExpr": "datum.value % 25 == 0 ? '' + datum.value : ''", "gridWidth": {"condition": {"test": "datum.value % 25 == 0", "value": 1.1}, "value": 0.6}}},
        "y2": {"datum": 0}
      }
    },
    {
      "title": "Kurtosis", "width": 265, "height": 154, "data": {"name": "ku"}, "mark": "area",
      "encoding": {
        "x": {"field": "t", "type": "quantitative", "title": "Date", "scale": {"domain": [2004.7, 2022.367], "nice": false, "zero": false},
              "axis": {"values": [2005, 2007.5, 2010, 2012.5, 2015, 2017.5, 2020], "labelExpr": "datum.value % 5 == 0 ? '' + datum.value : ''", "gridWidth": {"condition": {"test": "datum.value % 5 == 0", "value": 1.1}, "value": 0.6}}},
        "y": {"field": "v", "type": "quantitative", "title": "%", "scale": {"domain": [-77, 19], "nice": false, "zero": false},
              "axis": {"values": [-75, -62.5, -50, -37.5, -25, -12.5, 0, 12.5], "labelExpr": "datum.value % 25 == 0 ? '' + datum.value : ''", "gridWidth": {"condition": {"test": "datum.value % 25 == 0", "value": 1.1}, "value": 0.6}}},
        "y2": {"datum": 0}
      }
    }
  ]
}
